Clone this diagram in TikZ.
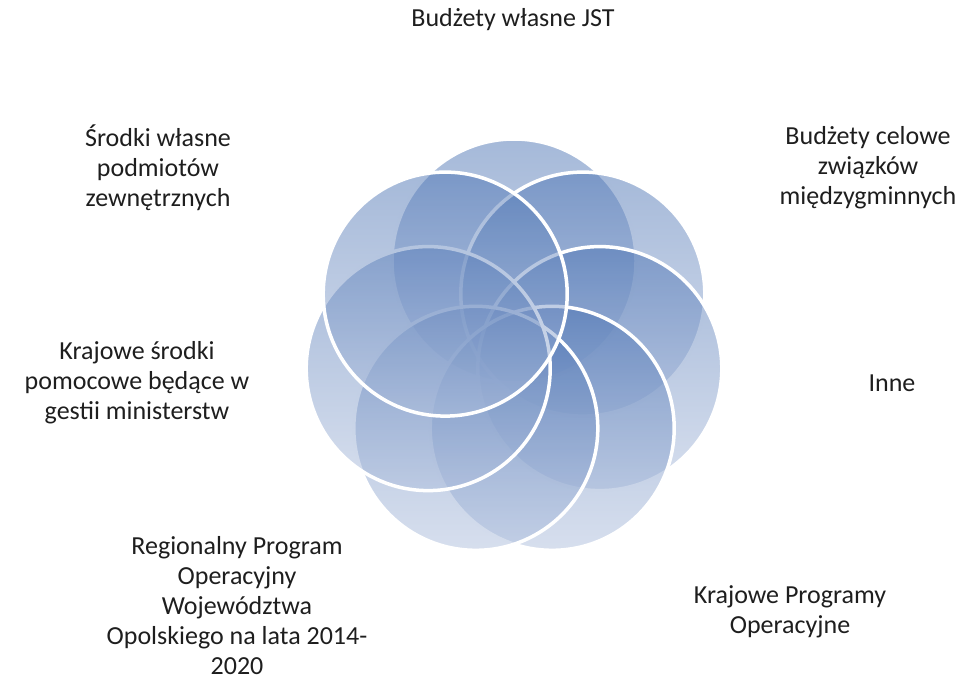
\documentclass[tikz,border=0pt]{standalone}
\usepackage{fontspec}
\setmainfont{Carlito}
\definecolor{ctop}{RGB}{75,115,179}
\definecolor{cbot}{RGB}{175,191,221}
\definecolor{txt}{RGB}{30,30,30}
\tikzset{
  petal/.style={circle, draw=white, line width=3.5pt, top color=ctop, bottom color=cbot,
    fill opacity=0.5, draw opacity=1, minimum size=244pt, inner sep=0pt},
  lbl/.style={align=center, text=txt, font=\fontsize{26}{30}\selectfont, inner sep=0pt}
}
\begin{document}
\begin{tikzpicture}[x=1pt,y=-1pt]
\useasboundingbox (0,0) rectangle (976,680);
\node[petal] (c1) at (514,261) {};
\node[petal] (c2) at (582.8,294.1) {};
\node[petal] (c3) at (599.8,368.6) {};
\node[petal] (c4) at (552.2,428.3) {};
\node[petal] (c5) at (475.8,428.3) {};
\node[petal] (c6) at (428.2,368.6) {};
\node[petal] (c7) at (445.2,294.1) {};
\node[lbl] (t1) at (513,20) {Budżety własne JST};
\node[lbl] (t2) at (868,168) {Budżety celowe\\związków\\międzygminnych};
\node[lbl] (t3) at (892,383) {Inne};
\node[lbl] (t4) at (790,612) {Krajowe Programy\\Operacyjne};
\node[lbl] (t5) at (237,606) {Regionalny Program\\Operacyjny\\Województwa\\Opolskiego na lata 2014-\\2020};
\node[lbl] (t6) at (137,383) {Krajowe środki\\pomocowe będące w\\gestii ministerstw};
\node[lbl] (t7) at (158,168) {Środki własne\\podmiotów\\zewnętrznych};
\end{tikzpicture}
\end{document}
